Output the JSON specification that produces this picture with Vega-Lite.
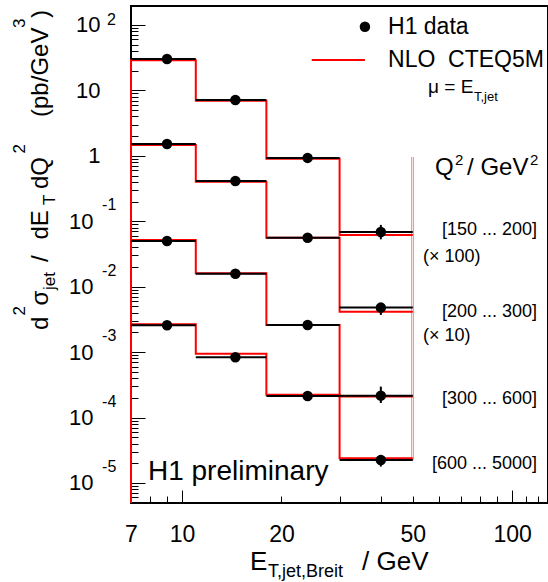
{
  "$schema": "https://vega.github.io/schema/vega-lite/v6.json",
  "width": 417,
  "height": 497,
  "autosize": "none",
  "padding": {"left": 131, "top": 6, "right": 0, "bottom": 79},
  "background": "white",
  "config": {
    "view": {"stroke": "black", "strokeWidth": 2},
    "font": "Liberation Sans",
    "text": {"font": "Liberation Sans", "color": "black"}
  },
  "datasets": {
    "nlo": [
      {"s": "A", "o": 0, "x": 7, "y": 4.94e-6}, {"s": "A", "o": 1, "x": 7, "y": 29.0}, {"s": "A", "o": 2, "x": 11, "y": 6.95}, {"s": "A", "o": 3, "x": 18, "y": 0.90}, {"s": "A", "o": 4, "x": 30, "y": 0.0617}, {"s": "A", "o": 5, "x": 50, "y": 0.0617},
      {"s": "B", "o": 0, "x": 7, "y": 4.94e-6}, {"s": "B", "o": 1, "x": 7, "y": 1.47}, {"s": "B", "o": 2, "x": 11, "y": 0.40}, {"s": "B", "o": 3, "x": 18, "y": 0.056}, {"s": "B", "o": 4, "x": 30, "y": 0.00415}, {"s": "B", "o": 5, "x": 50, "y": 0.00415},
      {"s": "C", "o": 0, "x": 7, "y": 4.94e-6}, {"s": "C", "o": 1, "x": 7, "y": 0.0518}, {"s": "C", "o": 2, "x": 11, "y": 0.0160}, {"s": "C", "o": 3, "x": 18, "y": 0.0026}, {"s": "C", "o": 4, "x": 30, "y": 0.000210}, {"s": "C", "o": 5, "x": 50, "y": 0.000210},
      {"s": "D", "o": 0, "x": 7, "y": 4.94e-6}, {"s": "D", "o": 1, "x": 7, "y": 0.00266}, {"s": "D", "o": 2, "x": 11, "y": 0.000948}, {"s": "D", "o": 3, "x": 18, "y": 0.000222}, {"s": "D", "o": 4, "x": 30, "y": 0.0000239}, {"s": "D", "o": 5, "x": 50, "y": 0.0000239}
    ],
    "bars": [
      {"s": "A", "x": 7, "x2": 11, "y": 30.2}, {"s": "A", "x": 11, "x2": 18, "y": 7.15}, {"s": "A", "x": 18, "x2": 30, "y": 0.93}, {"s": "A", "x": 30, "x2": 50, "y": 0.0686},
      {"s": "B", "x": 7, "x2": 11, "y": 1.52}, {"s": "B", "x": 11, "x2": 18, "y": 0.413}, {"s": "B", "x": 18, "x2": 30, "y": 0.0561}, {"s": "B", "x": 30, "x2": 50, "y": 0.00479},
      {"s": "C", "x": 7, "x2": 11, "y": 0.050}, {"s": "C", "x": 11, "x2": 18, "y": 0.0158}, {"s": "C", "x": 18, "x2": 30, "y": 0.0026}, {"s": "C", "x": 30, "x2": 50, "y": 0.000216},
      {"s": "D", "x": 7, "x2": 11, "y": 0.00257}, {"s": "D", "x": 11, "x2": 18, "y": 0.000834}, {"s": "D", "x": 18, "x2": 30, "y": 0.000214}, {"s": "D", "x": 30, "x2": 50, "y": 0.0000225}
    ],
    "dots": [
      {"x": 9, "y": 30.2}, {"x": 14.5, "y": 7.15}, {"x": 24, "y": 0.93}, {"x": 40, "y": 0.0686},
      {"x": 9, "y": 1.52}, {"x": 14.5, "y": 0.413}, {"x": 24, "y": 0.0561}, {"x": 40, "y": 0.00479},
      {"x": 9, "y": 0.050}, {"x": 14.5, "y": 0.0158}, {"x": 24, "y": 0.0026}, {"x": 40, "y": 0.000216},
      {"x": 9, "y": 0.00257}, {"x": 14.5, "y": 0.000834}, {"x": 24, "y": 0.000214}, {"x": 40, "y": 0.0000225},
      {"x": 35.8, "y": 94.2}
    ],
    "errs": [
      {"x": 40, "y": 0.053, "y2": 0.088},
      {"x": 40, "y": 0.0037, "y2": 0.0056},
      {"x": 40, "y": 0.000167, "y2": 0.000297},
      {"x": 40, "y": 0.0000178, "y2": 0.0000268}
    ],
    "sep": [
      {"x": 49.6, "y": 0.00002249, "y2": 0.9607},
      {"x": 50.2, "y": 0.00002249, "y2": 0.9607}
    ],
    "legline": [
      {"x": 24.7, "x2": 35.8, "y": 29.2}
    ],
    "yexp": [
      {"x": 5.92, "y": 100, "t": "2"},
      {"x": 5.72, "y": 0.1472, "t": "-1"},
      {"x": 5.72, "y": 0.01472, "t": "-2"},
      {"x": 5.72, "y": 0.001472, "t": "-3"},
      {"x": 5.72, "y": 0.0001472, "t": "-4"},
      {"x": 5.72, "y": 0.00001472, "t": "-5"}
    ],
    "mu": [{"x": 55.6, "y": 9.14, "t": "μ = E"}],
    "mus": [{"x": 76.6, "y": 6.90, "t": "T,jet"}],
    "q2": [
      {"x": 58.4, "y": 0.51, "t": "Q"},
      {"x": 73.0, "y": 0.51, "t": "/ GeV"}
    ],
    "q2s": [
      {"x": 67.1, "y": 0.725, "t": "2"},
      {"x": 113.3, "y": 0.725, "t": "2"}
    ],
    "rngl": [
      {"x": 53.7, "y": 0.02386, "t": "(× 100)"},
      {"x": 53.7, "y": 0.001481, "t": "(× 10)"}
    ],
    "prel": [{"x": 7.88, "y": 0.00001112, "t": "H1 preliminary"}],
    "xtm": [
      {"x": 16.06, "y": 4.68e-7, "t": "E"},
      {"x": 35.08, "y": 4.68e-7, "t": "/ GeV"}
    ],
    "xts": [{"x": 18.2, "y": 3.66e-7, "t": "T,jet,Breit"}],
    "rng": [
      {"x": 118.9, "y": 0.06173, "t": "[150 ... 200]"},
      {"x": 118.9, "y": 0.003446, "t": "[200 ... 300]"},
      {"x": 118.9, "y": 0.0001612, "t": "[300 ... 600]"},
      {"x": 118.9, "y": 0.00001637, "t": "[600 ... 5000]"}
    ],
    "leg": [
      {"x": 42.06, "y": 94.2, "t": "H1 data"},
      {"x": 42.06, "y": 29.2, "t": "NLO\u00a0\u00a0CTEQ5M"}
    ],
    "ytm": [
      {"x": 3.923, "y": 0.002181, "t": "d"},
      {"x": 3.923, "y": 0.005164, "t": "σ"},
      {"x": 3.923, "y": 0.02386, "t": "/"},
      {"x": 3.923, "y": 0.05267, "t": "dE"},
      {"x": 3.923, "y": 0.3114, "t": "dQ"},
      {"x": 3.923, "y": 3.926, "t": "(pb/GeV"},
      {"x": 3.923, "y": 127.9, "t": ")"}
    ],
    "yts": [
      {"x": 3.341, "y": 0.003632, "t": "2"},
      {"x": 4.120, "y": 0.008913, "t": "jet"},
      {"x": 4.120, "y": 0.1774, "t": "T"},
      {"x": 3.341, "y": 1.087, "t": "2"},
      {"x": 3.341, "y": 89.99, "t": "3"}
    ]
  },
  "layer": [
    {
      "encoding": {
        "x": {
          "field": "x", "type": "quantitative",
          "scale": {"type": "log", "domain": [7, 128.4], "nice": false, "zero": false},
          "axis": {
            "orient": "bottom", "title": null, "grid": false, "domain": false,
            "values": [10, 100],
            "labelExpr": "'' + datum.value",
            "offset": -13, "tickSize": 13, "labelPadding": 20,
            "tickColor": "black", "tickWidth": 1,
            "labelFont": "Liberation Sans", "labelFontSize": 23, "labelColor": "black",
            "labelOverlap": false, "labelFlush": false, "labelBound": false,
            "labelAlign": "center", "labelBaseline": "top"
          }
        },
        "y": {
          "field": "y", "type": "quantitative",
          "scale": {"type": "log", "domain": [4.94e-6, 195], "nice": false, "zero": false},
          "axis": {
            "orient": "left", "title": null, "grid": false, "domain": false,
            "values": [1e-5, 1e-4, 0.001, 0.01, 0.1, 1, 10, 100],
            "labelExpr": "datum.value > 0.5 && datum.value < 2 ? '1' : '10'",
            "offset": -14, "tickSize": 14,
            "labelPadding": {"condition": {"test": "datum.value < 0.5", "value": 38}, "value": 31},
            "tickColor": "black", "tickWidth": 1,
            "labelFont": "Liberation Sans", "labelFontSize": 22, "labelColor": "black",
            "labelOverlap": false, "labelFlush": false, "labelBound": false,
            "labelAlign": "right", "labelBaseline": "middle"
          }
        }
      },
      "layer": [
        {
          "data": {"name": "sep"},
          "mark": {"type": "rule", "color": "#f08a8a", "strokeWidth": 1},
          "encoding": {"y2": {"field": "y2"}}
        },
        {
          "data": {"name": "nlo"},
          "mark": {"type": "line", "interpolate": "step-after", "color": "#ff0000", "strokeWidth": 2},
          "encoding": {"detail": {"field": "s"}, "order": {"field": "o", "type": "quantitative"}}
        },
        {
          "data": {"name": "bars"},
          "mark": {"type": "rule", "color": "black", "strokeWidth": 2},
          "encoding": {"x2": {"field": "x2"}}
        },
        {
          "data": {"name": "errs"},
          "mark": {"type": "rule", "color": "black", "strokeWidth": 2},
          "encoding": {"y2": {"field": "y2"}}
        },
        {
          "data": {"name": "legline"},
          "mark": {"type": "rule", "color": "#ff0000", "strokeWidth": 2},
          "encoding": {"x2": {"field": "x2"}}
        },
        {
          "data": {"name": "yexp"},
          "mark": {"type": "text", "align": "left", "baseline": "alphabetic", "fontSize": 16},
          "encoding": {"text": {"field": "t"}}
        },
        {
          "data": {"name": "mu"},
          "mark": {"type": "text", "align": "left", "baseline": "alphabetic", "fontSize": 19},
          "encoding": {"text": {"field": "t"}}
        },
        {
          "data": {"name": "mus"},
          "mark": {"type": "text", "align": "left", "baseline": "alphabetic", "fontSize": 13},
          "encoding": {"text": {"field": "t"}}
        },
        {
          "data": {"name": "q2"},
          "mark": {"type": "text", "align": "left", "baseline": "alphabetic", "fontSize": 24},
          "encoding": {"text": {"field": "t"}}
        },
        {
          "data": {"name": "q2s"},
          "mark": {"type": "text", "align": "left", "baseline": "alphabetic", "fontSize": 15},
          "encoding": {"text": {"field": "t"}}
        },
        {
          "data": {"name": "rngl"},
          "mark": {"type": "text", "align": "left", "baseline": "alphabetic", "fontSize": 18},
          "encoding": {"text": {"field": "t"}}
        },
        {
          "data": {"name": "prel"},
          "mark": {"type": "text", "align": "left", "baseline": "alphabetic", "fontSize": 28},
          "encoding": {"text": {"field": "t"}}
        },
        {
          "data": {"name": "xtm"},
          "mark": {"type": "text", "align": "left", "baseline": "alphabetic", "fontSize": 26},
          "encoding": {"text": {"field": "t"}}
        },
        {
          "data": {"name": "xts"},
          "mark": {"type": "text", "align": "left", "baseline": "alphabetic", "fontSize": 18},
          "encoding": {"text": {"field": "t"}}
        },
        {
          "data": {"name": "rng"},
          "mark": {"type": "text", "align": "right", "baseline": "alphabetic", "fontSize": 18},
          "encoding": {"text": {"field": "t"}}
        },
        {
          "data": {"name": "leg"},
          "mark": {"type": "text", "align": "left", "baseline": "middle", "fontSize": 23},
          "encoding": {"text": {"field": "t"}}
        },
        {
          "data": {"name": "ytm"},
          "mark": {"type": "text", "align": "left", "baseline": "alphabetic", "angle": 270, "fontSize": 24},
          "encoding": {"text": {"field": "t"}}
        },
        {
          "data": {"name": "yts"},
          "mark": {"type": "text", "align": "left", "baseline": "alphabetic", "angle": 270, "fontSize": 17},
          "encoding": {"text": {"field": "t"}}
        }
      ]
    },
    {
      "data": {"name": "dots"},
      "mark": {"type": "point", "filled": true, "color": "black", "opacity": 1, "size": 110, "shape": "circle"},
      "encoding": {
        "x": {
          "field": "x", "type": "quantitative",
          "scale": {"type": "log", "domain": [7, 128.4], "nice": false, "zero": false},
          "axis": {
            "orient": "bottom", "title": null, "grid": false, "domain": false,
            "values": [7, 8, 9, 20, 30, 40, 50, 60, 70, 80, 90, 110, 120],
            "labelExpr": "indexof([7, 20, 50], datum.value) >= 0 ? '' + datum.value : ''",
            "offset": -7, "tickSize": 7, "labelPadding": 20,
            "tickColor": "black", "tickWidth": 1,
            "labelFont": "Liberation Sans", "labelFontSize": 23, "labelColor": "black",
            "labelOverlap": false, "labelFlush": false, "labelBound": false,
            "labelAlign": "center", "labelBaseline": "top"
          }
        },
        "y": {
          "field": "y", "type": "quantitative",
          "scale": {"type": "log", "domain": [4.94e-6, 195], "nice": false, "zero": false},
          "axis": {
            "orient": "left", "title": null, "grid": false, "domain": false, "labels": false,
            "values": [5e-6, 6e-6, 7e-6, 8e-6, 9e-6, 2e-5, 3e-5, 4e-5, 5e-5, 6e-5, 7e-5, 8e-5, 9e-5, 2e-4, 3e-4, 4e-4, 5e-4, 6e-4, 7e-4, 8e-4, 9e-4, 0.002, 0.003, 0.004, 0.005, 0.006, 0.007, 0.008, 0.009, 0.02, 0.03, 0.04, 0.05, 0.06, 0.07, 0.08, 0.09, 0.2, 0.3, 0.4, 0.5, 0.6, 0.7, 0.8, 0.9, 2, 3, 4, 5, 6, 7, 8, 9, 20, 30, 40, 50, 60, 70, 80, 90],
            "offset": -7, "tickSize": 7,
            "tickColor": "black", "tickWidth": 1
          }
        }
      }
    }
  ],
  "resolve": {"axis": {"x": "independent", "y": "independent"}}
}
